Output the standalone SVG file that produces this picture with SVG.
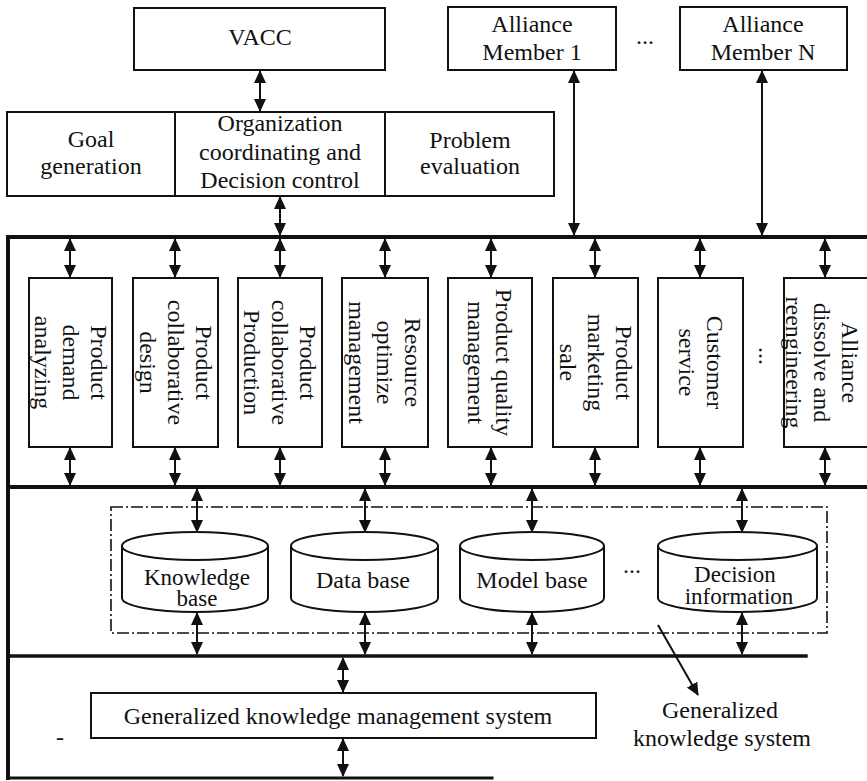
<svg xmlns="http://www.w3.org/2000/svg" width="867" height="781" viewBox="0 0 867 781">
  <style>
    .box { fill: #fff; stroke: #111; stroke-width: 2; }
    .bus { fill: none; stroke: #111; stroke-linecap: square; }
    .t { font-family: "Liberation Serif", "Times New Roman", serif; font-size: 24px; fill: #111; text-anchor: middle; }
    .tc { font-size: 23px; }
    .link { fill: none; stroke: #111; stroke-width: 2; marker-start: url(#ah); marker-end: url(#ah); }
    .one { fill: none; stroke: #111; stroke-width: 2; marker-end: url(#ah); }
    .frame { fill: none; stroke: #111; stroke-width: 1.6; stroke-dasharray: 12 3 2 3; }
  </style>
  <defs>
    <marker id="ah" viewBox="0 0 13 12" refX="12" refY="6" markerWidth="13" markerHeight="12" markerUnits="userSpaceOnUse" orient="auto-start-reverse">
      <path d="M0,0 L13,6 L0,12 z" fill="#111"/>
    </marker>
  </defs>

  <rect width="867" height="781" fill="#fff"/>

  <!-- backbone lines of the layered structure -->
  <g id="buses">
    <line class="bus" x1="8" y1="237" x2="867" y2="237" stroke-width="4"/>
    <line class="bus" x1="8" y1="487" x2="867" y2="487" stroke-width="4"/>
    <line class="bus" x1="8" y1="656" x2="806" y2="656" stroke-width="3.5"/>
    <line class="bus" x1="8" y1="778" x2="492" y2="778" stroke-width="3"/>
    <line class="bus" x1="8" y1="237" x2="8" y2="778" stroke-width="4"/>
  </g>

  <!-- top level -->
  <g id="vacc">
    <rect class="box" x="134" y="8" width="251" height="62"/>
    <text class="t" x="260" y="45">VACC</text>
  </g>
  <g id="member-1">
    <rect class="box" x="448" y="7" width="168" height="63"/>
    <text class="t" x="532" y="32">Alliance</text>
    <text class="t" x="532" y="60">Member 1</text>
  </g>
  <text class="t" x="645" y="44">...</text>
  <g id="member-n">
    <rect class="box" x="680" y="7" width="167" height="63"/>
    <text class="t" x="763" y="32">Alliance</text>
    <text class="t" x="763" y="60">Member N</text>
  </g>

  <g id="goal-generation">
    <rect class="box" x="7" y="112" width="168" height="84"/>
    <text class="t" x="91" y="147">Goal</text>
    <text class="t" x="91" y="174">generation</text>
  </g>
  <g id="coordination">
    <rect class="box" x="175" y="112" width="210" height="84"/>
    <text class="t" x="280" y="131">Organization</text>
    <text class="t" x="280" y="160">coordinating and</text>
    <text class="t" x="280" y="188">Decision control</text>
  </g>
  <g id="problem-evaluation">
    <rect class="box" x="385" y="112" width="169" height="84"/>
    <text class="t" x="470" y="148">Problem</text>
    <text class="t" x="470" y="174">evaluation</text>
  </g>

  <!-- business process modules (vertical labels) -->
  <g id="m1">
    <rect class="box" x="29" y="278" width="83" height="169"/>
    <g transform="translate(70.5,362.5) rotate(90)">
      <text class="t" x="0" y="-20">Product</text>
      <text class="t" x="0" y="8">demand</text>
      <text class="t" x="0" y="36">analyzing</text>
    </g>
  </g>
  <g id="m2">
    <rect class="box" x="133" y="278" width="85" height="169"/>
    <g transform="translate(175.5,362.5) rotate(90)">
      <text class="t" x="0" y="-20">Product</text>
      <text class="t" x="0" y="8">collaborative</text>
      <text class="t" x="0" y="36">design</text>
    </g>
  </g>
  <g id="m3">
    <rect class="box" x="238" y="278" width="84" height="169"/>
    <g transform="translate(280,362.5) rotate(90)">
      <text class="t" x="0" y="-20">Product</text>
      <text class="t" x="0" y="8">collaborative</text>
      <text class="t" x="0" y="36">Production</text>
    </g>
  </g>
  <g id="m4">
    <rect class="box" x="342" y="278" width="86" height="169"/>
    <g transform="translate(385,362.5) rotate(90)">
      <text class="t" x="0" y="-20">Resource</text>
      <text class="t" x="0" y="8">optimize</text>
      <text class="t" x="0" y="36">management</text>
    </g>
  </g>
  <g id="m5">
    <rect class="box" x="448" y="278" width="84" height="169"/>
    <g transform="translate(490,362.5) rotate(90)">
      <text class="t" x="0" y="-6">Product quality</text>
      <text class="t" x="0" y="22">management</text>
    </g>
  </g>
  <g id="m6">
    <rect class="box" x="553" y="278" width="85" height="169"/>
    <g transform="translate(595.5,362.5) rotate(90)">
      <text class="t" x="0" y="-20">Product</text>
      <text class="t" x="0" y="8">marketing</text>
      <text class="t" x="0" y="36">sale</text>
    </g>
  </g>
  <g id="m7">
    <rect class="box" x="658" y="278" width="85" height="169"/>
    <g transform="translate(700.5,362.5) rotate(90)">
      <text class="t" x="0" y="-6">Customer</text>
      <text class="t" x="0" y="22">service</text>
    </g>
  </g>
  <g transform="translate(760,356) rotate(90)">
    <text class="t" x="0" y="1">...</text>
  </g>
  <g id="m8">
    <rect class="box" x="784" y="278" width="90" height="169"/>
    <g transform="translate(822,362.5) rotate(90)">
      <text class="t" x="0" y="-20">Alliance</text>
      <text class="t" x="0" y="8">dissolve and</text>
      <text class="t" x="0" y="36">reengineering</text>
    </g>
  </g>

  <!-- generalized knowledge system -->
  <rect class="frame" x="111" y="507" width="716" height="126"/>

  <g id="knowledge-base">
    <path class="box" d="M122,546 A73,14 0 0 1 268,546 L268,598 A73,14 0 0 1 122,598 Z"/>
    <path class="box" d="M122,546 A73,14 0 0 0 268,546" fill="none"/>
    <text class="t tc" x="197" y="585">Knowledge</text>
    <text class="t tc" x="197" y="606">base</text>
  </g>
  <g id="data-base">
    <path class="box" d="M291,546 A73.5,14 0 0 1 438,546 L438,598 A73.5,14 0 0 1 291,598 Z"/>
    <path class="box" d="M291,546 A73.5,14 0 0 0 438,546" fill="none"/>
    <text class="t" x="363" y="588">Data base</text>
  </g>
  <g id="model-base">
    <path class="box" d="M460,546 A72,14 0 0 1 604,546 L604,598 A72,14 0 0 1 460,598 Z"/>
    <path class="box" d="M460,546 A72,14 0 0 0 604,546" fill="none"/>
    <text class="t" x="532" y="588">Model base</text>
  </g>
  <text class="t" x="632" y="573">...</text>
  <g id="decision-information">
    <path class="box" d="M658,546 A79.5,14 0 0 1 817,546 L817,598 A79.5,14 0 0 1 658,598 Z"/>
    <path class="box" d="M658,546 A79.5,14 0 0 0 817,546" fill="none"/>
    <text class="t tc" x="735" y="582">Decision</text>
    <text class="t tc" x="739" y="604">information</text>
  </g>

  <g id="gkms">
    <rect class="box" x="91" y="693" width="505" height="45"/>
    <text class="t" x="338" y="724">Generalized knowledge management system</text>
  </g>
  <text class="t" x="60" y="745">-</text>

  <g id="gks-label">
    <text class="t" x="720" y="718">Generalized</text>
    <text class="t" x="722" y="746">knowledge system</text>
  </g>

  <!-- connectors -->
  <g id="connectors">
    <line class="link" x1="260" y1="71" x2="260" y2="111"/>
    <line class="link" x1="280" y1="197" x2="280" y2="235"/>
    <line class="link" x1="574" y1="71" x2="574" y2="235"/>
    <line class="link" x1="762" y1="71" x2="762" y2="235"/>

    <line class="link" x1="70" y1="239" x2="70" y2="277"/>
    <line class="link" x1="175" y1="239" x2="175" y2="277"/>
    <line class="link" x1="280" y1="239" x2="280" y2="277"/>
    <line class="link" x1="385" y1="239" x2="385" y2="277"/>
    <line class="link" x1="491" y1="239" x2="491" y2="277"/>
    <line class="link" x1="595" y1="239" x2="595" y2="277"/>
    <line class="link" x1="700" y1="239" x2="700" y2="277"/>
    <line class="link" x1="825" y1="239" x2="825" y2="277"/>

    <line class="link" x1="70" y1="448" x2="70" y2="485"/>
    <line class="link" x1="175" y1="448" x2="175" y2="485"/>
    <line class="link" x1="280" y1="448" x2="280" y2="485"/>
    <line class="link" x1="385" y1="448" x2="385" y2="485"/>
    <line class="link" x1="491" y1="448" x2="491" y2="485"/>
    <line class="link" x1="595" y1="448" x2="595" y2="485"/>
    <line class="link" x1="700" y1="448" x2="700" y2="485"/>
    <line class="link" x1="825" y1="448" x2="825" y2="485"/>

    <line class="link" x1="197" y1="489" x2="197" y2="532"/>
    <line class="link" x1="365" y1="489" x2="365" y2="532"/>
    <line class="link" x1="532" y1="489" x2="532" y2="532"/>
    <line class="link" x1="742" y1="489" x2="742" y2="532"/>

    <line class="link" x1="197" y1="613" x2="197" y2="654"/>
    <line class="link" x1="365" y1="613" x2="365" y2="654"/>
    <line class="link" x1="532" y1="613" x2="532" y2="654"/>
    <line class="link" x1="742" y1="613" x2="742" y2="654"/>

    <line class="link" x1="343" y1="658" x2="343" y2="692"/>
    <line class="link" x1="343" y1="739" x2="343" y2="776"/>

    <line class="one" x1="658" y1="625" x2="698" y2="695"/>
  </g>
</svg>
